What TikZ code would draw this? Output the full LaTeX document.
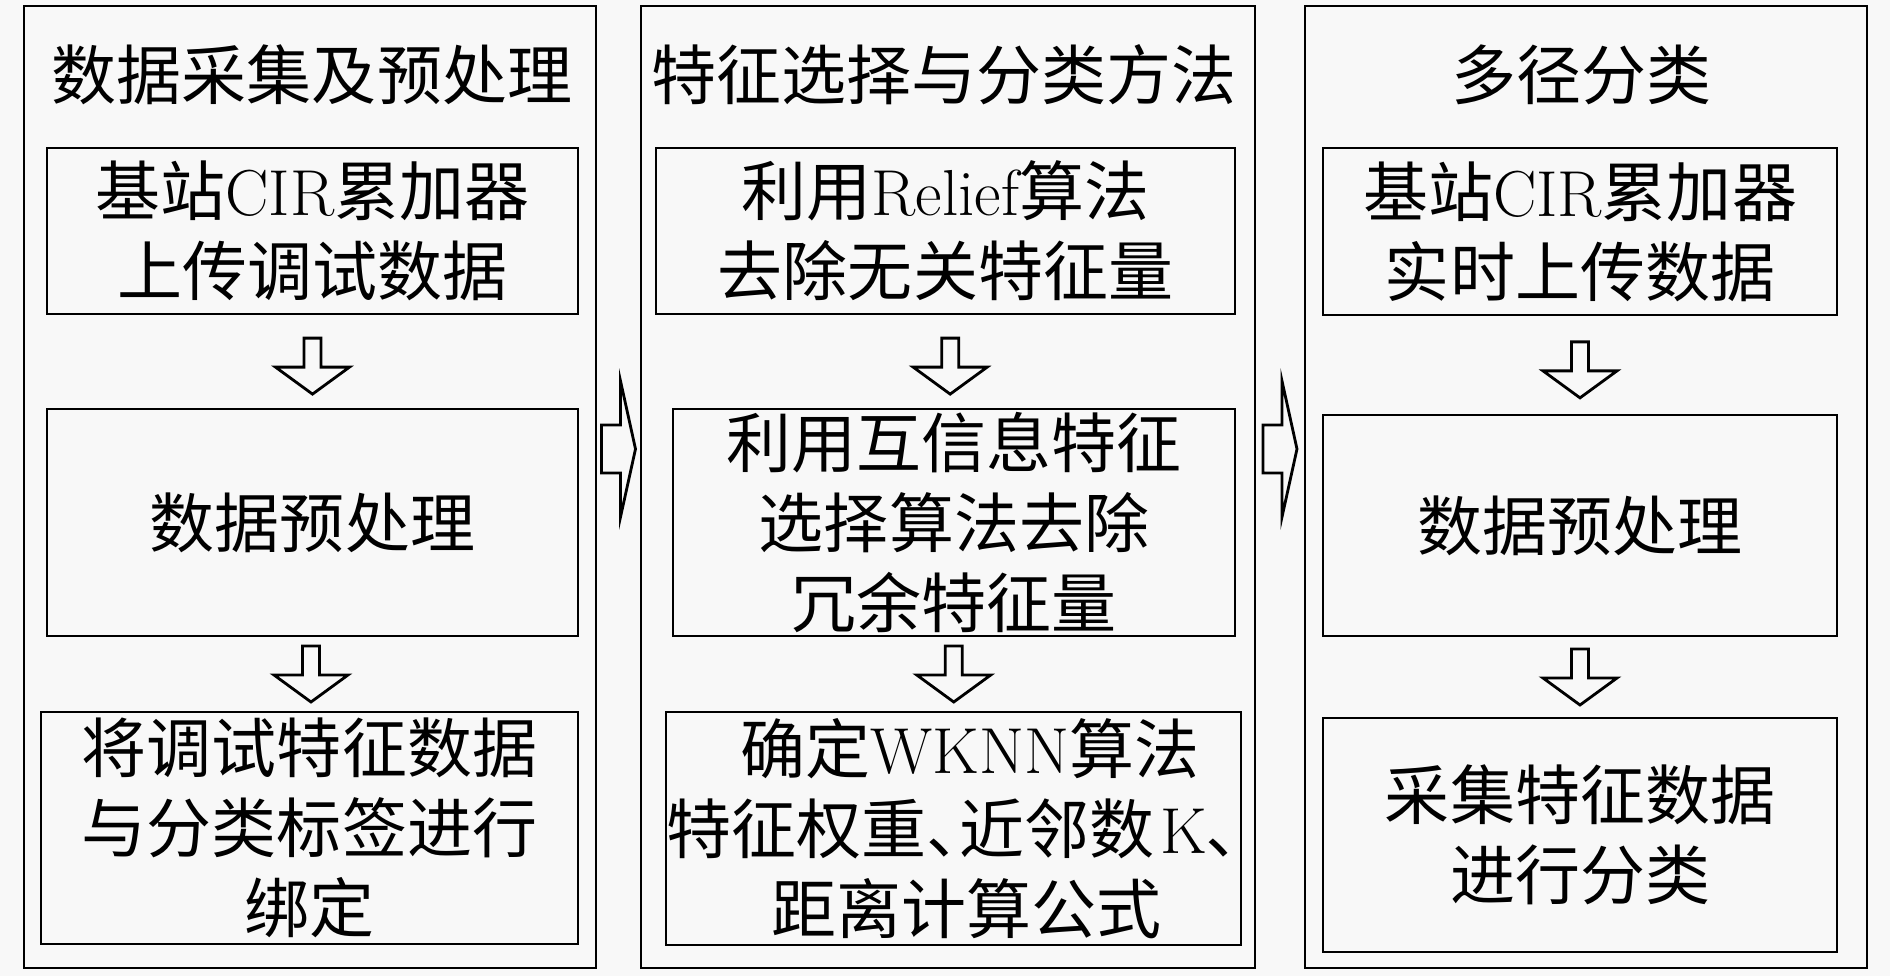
\documentclass[tikz,border=0pt]{standalone}
\usepackage{fontspec}
\newfontfamily\cjk{Noto Sans CJK SC}
\usetikzlibrary{calc}
\definecolor{paper}{RGB}{248,248,248}
\newcommand{\zh}[1]{{\cjk #1}}
\newcommand{\dun}{\makebox[0.5em][l]{\zh{、}}}

\begin{document}
\begin{tikzpicture}[
        x=0.02cm, y=-0.02cm, % 1 единица = 1 пиксель, ось y вниз
        line width=1.6pt,
        every node/.style={font=\fontsize{37}{45.5}\selectfont},
        column/.style={draw, inner sep=0pt, minimum height=19.24cm}, % рамки этапов
        stepbox/.style={draw, inner sep=0pt, align=center}, % блоки внутри этапа
        blockdown/.pic={\draw (-8.5,-28) -- (8.5,-28) -- (8.5,1) -- (37,1) -- (0,28) -- (-37,1) -- (-8.5,1) -- cycle;},
        blockright/.pic={\draw (-17,-24) -- (2,-24) -- (2,-68) -- (17,0) -- (2,68) -- (2,24) -- (-17,24) -- cycle;},
    ]

    \fill[paper] (0,0) rectangle (1890,976);
    \useasboundingbox (0,0) rectangle (1890,976);

    % этапы
    \node[column, minimum width=11.44cm] (col1) at (310,487) {};
    \node[column, minimum width=12.28cm] (col2) at (948,487) {};
    \node[column, minimum width=11.24cm] (col3) at (1586,487) {};

    \node (t1) at (312,75) {\zh{数据采集及预处理}};
    \node (t2) at (944,75) {\zh{特征选择与分类方法}};
    \node (t3) at (1581,75) {\zh{多径分类}};

    % первый этап
    \node[stepbox, minimum width=10.62cm, minimum height=3.32cm] (c1b1) at (312.5,231)
        {\zh{基站}CIR\zh{累加器}\\\zh{上传调试数据}};
    \node[stepbox, minimum width=10.62cm, minimum height=4.54cm] (c1b2) at (312.5,522.5)
        {\zh{数据预处理}};
    \node[stepbox, minimum width=10.74cm, minimum height=4.64cm] (c1b3) at (309.5,828)
        {\zh{将调试特征数据}\\\zh{与分类标签进行}\\\zh{绑定}};

    % второй этап
    \node[stepbox, minimum width=11.58cm, minimum height=3.32cm] (c2b1) at (945.5,231)
        {\zh{利用}Relief\zh{算法}\\\zh{去除无关特征量}};
    \node[stepbox, minimum width=11.24cm, minimum height=4.54cm] (c2b2) at (954,522.5)
        {\zh{利用互信息特征}\\\zh{选择算法去除}\\\zh{冗余特征量}};
    \node[stepbox, minimum width=11.5cm, minimum height=4.66cm] (c2b3) at (953.5,828.5)
        {\hspace*{0.5em}\zh{确定}WKNN\zh{算法}\\\zh{特征权重}\dun\zh{近邻数}\hspace{0.1em}K\zh{､}\\\hspace*{0.4em}\zh{距离计算公式}};

    % третий этап
    \node[stepbox, minimum width=10.28cm, minimum height=3.34cm] (c3b1) at (1580,231.5)
        {\zh{基站}CIR\zh{累加器}\\\zh{实时上传数据}};
    \node[stepbox, minimum width=10.28cm, minimum height=4.42cm] (c3b2) at (1580,525.5)
        {\zh{数据预处理}};
    \node[stepbox, minimum width=10.28cm, minimum height=4.68cm] (c3b3) at (1580,835)
        {\zh{采集特征数据}\\\zh{进行分类}};

    % стрелки
    \pic at ($(c1b1.south)!.55!(c1b2.north)$) {blockdown};
    \pic at ($(c1b2.south)!.5!(c1b3.north)$) {blockdown};
    \pic at ($(c2b1.south)!.55!(c2b2.north)$) {blockdown};
    \pic at ($(c2b2.south)!.5!(c2b3.north)$) {blockdown};
    \pic at ($(c3b1.south)!.55!(c3b2.north)$) {blockdown};
    \pic at ($(c3b2.south)!.5!(c3b3.north)$) {blockdown};
    \pic at ($($(col1.east)!.5!(col2.west)$)+(0,-38)$) {blockright};
    \pic at ($($(col2.east)!.5!(col3.west)$)+(0,-38)$) {blockright};
\end{tikzpicture}
\end{document}
